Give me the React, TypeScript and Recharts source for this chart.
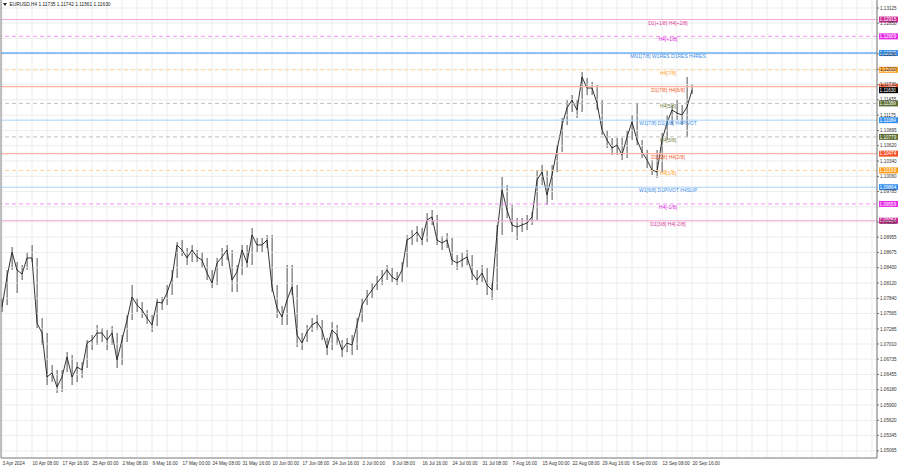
import React from 'react';
import { ComposedChart, Line, Bar, XAxis, YAxis, CartesianGrid, ReferenceLine } from 'recharts';

// H4 EURUSD, sampled about every 7 bars (closes, highs, lows)
const closes = [
  1.07684, 1.08230, 1.08685, 1.08357, 1.08284, 1.08575, 1.08575, 1.07392, 1.07210, 1.06410,
  1.06482, 1.06228, 1.06410, 1.06774, 1.06410, 1.06592, 1.06537, 1.07028, 1.07083, 1.07210,
  1.07210, 1.07083, 1.07210, 1.06719, 1.07083, 1.07447, 1.07866, 1.07720, 1.07629, 1.07483,
  1.07356, 1.07775, 1.07756, 1.07938, 1.08211, 1.08812, 1.08721, 1.08575, 1.08721, 1.08594,
  1.08539, 1.08302, 1.08120, 1.08484, 1.08594, 1.08721, 1.08175, 1.08321, 1.08721, 1.08484,
  1.08994, 1.08812, 1.08812, 1.08903, 1.08048, 1.07665, 1.07502, 1.07811, 1.08048, 1.07174,
  1.07028, 1.07229, 1.07356, 1.07411, 1.07265, 1.06937, 1.07265, 1.07174, 1.06901, 1.07028,
  1.06992, 1.07356, 1.07720, 1.07866, 1.07993, 1.08120, 1.08230, 1.08357, 1.08230, 1.08175,
  1.08357, 1.08903, 1.08958, 1.09049, 1.08903, 1.09267, 1.09322, 1.08903, 1.08848, 1.08903,
  1.08539, 1.08484, 1.08539, 1.08594, 1.08302, 1.08175, 1.08302, 1.08084, 1.07993, 1.09030,
  1.09813, 1.09449, 1.09176, 1.09140, 1.09176, 1.09212, 1.09322, 1.09995, 1.10141, 1.09722,
  1.10086, 1.10541, 1.10996, 1.11305, 1.11451, 1.11269, 1.11870, 1.11669, 1.11669, 1.11396,
  1.10905, 1.10723, 1.10577, 1.10632, 1.10450, 1.10778, 1.11051, 1.10723, 1.10505, 1.10359,
  1.10177, 1.10141, 1.10723, 1.11032, 1.11269, 1.11214, 1.11178, 1.11324, 1.11630,
];
const highs = [
  1.07847, 1.08357, 1.08776, 1.08503, 1.08448, 1.08685, 1.08812, 1.08575, 1.07483, 1.07210,
  1.06628, 1.06537, 1.06537, 1.06865, 1.06810, 1.06683, 1.06683, 1.07083, 1.07174, 1.07356,
  1.07301, 1.07265, 1.07338, 1.07210, 1.07174, 1.07538, 1.08084, 1.07847, 1.07775, 1.07629,
  1.07538, 1.07847, 1.07866, 1.08084, 1.08357, 1.08867, 1.08903, 1.08757, 1.08812, 1.08721,
  1.08685, 1.08575, 1.08357, 1.08575, 1.08757, 1.08812, 1.08721, 1.08448, 1.08812, 1.08812,
  1.09121, 1.08939, 1.08939, 1.08994, 1.08994, 1.08084, 1.07702, 1.08448, 1.08448, 1.08084,
  1.07210, 1.07356, 1.07483, 1.07538, 1.07447, 1.07119, 1.07411, 1.07356, 1.07083, 1.07119,
  1.07174, 1.07483, 1.07847, 1.07993, 1.08120, 1.08248, 1.08357, 1.08448, 1.08393, 1.08321,
  1.08503, 1.08994, 1.09085, 1.09158, 1.09121, 1.09394, 1.09449, 1.09358, 1.08976, 1.09030,
  1.08939, 1.08630, 1.08685, 1.08721, 1.08630, 1.08357, 1.08448, 1.08393, 1.08120, 1.09176,
  1.10050, 1.09904, 1.09540, 1.09303, 1.09303, 1.09358, 1.09413, 1.10177, 1.10268, 1.10177,
  1.10268, 1.10632, 1.11123, 1.11451, 1.11542, 1.11451, 1.11961, 1.11851, 1.11779, 1.11724,
  1.11451, 1.10905, 1.10759, 1.10759, 1.10759, 1.10905, 1.11178, 1.11396, 1.10723, 1.10541,
  1.10359, 1.10541, 1.10850, 1.11178, 1.11360, 1.11451, 1.11360, 1.11870, 1.11742,
];
const lows = [
  1.07593, 1.07720, 1.08357, 1.07938, 1.08175, 1.08357, 1.08503, 1.07301, 1.06992, 1.06264,
  1.06319, 1.06118, 1.06137, 1.06501, 1.06264, 1.06319, 1.06391, 1.06573, 1.06901, 1.06992,
  1.07047, 1.06901, 1.06992, 1.06573, 1.06628, 1.07047, 1.07447, 1.07593, 1.07483, 1.07374,
  1.07229, 1.07338, 1.07629, 1.07720, 1.07902, 1.08211, 1.08612, 1.08448, 1.08503, 1.08503,
  1.08393, 1.08175, 1.08029, 1.08084, 1.08430, 1.08539, 1.07957, 1.07957, 1.08266, 1.08393,
  1.08448, 1.08685, 1.08685, 1.08757, 1.07957, 1.07483, 1.07356, 1.07356, 1.07902, 1.06956,
  1.06901, 1.07047, 1.07229, 1.07265, 1.07083, 1.06810, 1.06901, 1.06992, 1.06774, 1.06865,
  1.06810, 1.06901, 1.07411, 1.07720, 1.07847, 1.07993, 1.08084, 1.08175, 1.08139, 1.08084,
  1.08139, 1.08393, 1.08812, 1.08867, 1.08812, 1.08867, 1.09176, 1.08812, 1.08721, 1.08757,
  1.08448, 1.08357, 1.08393, 1.08448, 1.08175, 1.08084, 1.08139, 1.07902, 1.07811, 1.07993,
  1.08994, 1.09303, 1.09049, 1.08903, 1.09049, 1.09085, 1.09176, 1.09267, 1.09904, 1.09540,
  1.09631, 1.10141, 1.10505, 1.10996, 1.11233, 1.11123, 1.11233, 1.11542, 1.11542, 1.11269,
  1.10814, 1.10577, 1.10450, 1.10450, 1.10359, 1.10395, 1.10723, 1.10632, 1.10395, 1.10213,
  1.10086, 1.10031, 1.10141, 1.10723, 1.10996, 1.11087, 1.10996, 1.10778, 1.11561,
];

const xLabels = [
  '3 Apr 2024', '10 Apr 08:00', '17 Apr 16:00', '25 Apr 00:00', '2 May 08:00', '9 May 16:00',
  '17 May 00:00', '24 May 08:00', '31 May 16:00', '10 Jun 00:00', '17 Jun 08:00', '24 Jun 16:00',
  '2 Jul 00:00', '9 Jul 08:00', '16 Jul 16:00', '24 Jul 00:00', '31 Jul 08:00', '7 Aug 16:00',
  '15 Aug 00:00', '22 Aug 08:00', '29 Aug 16:00', '6 Sep 00:00', '13 Sep 08:00', '20 Sep 16:00',
];

// price-scale labels (those fully hidden behind level boxes in the reference are left out)
const yTicks = [
  1.13125, 1.12850, 1.12290, 1.12010, 1.11730, 1.11455, 1.11175, 1.10895, 1.10620,
  1.10340, 1.10060, 1.09785, 1.09230, 1.08955, 1.08675, 1.08400, 1.08120, 1.07840,
  1.07565, 1.07285, 1.07010, 1.06735, 1.06455, 1.06180, 1.05900, 1.05620, 1.05345, 1.05065,
];
const gridPrices = [
  1.13125, 1.12850, 1.12570, 1.12290, 1.12010, 1.11730, 1.11455, 1.11175, 1.10895, 1.10620,
  1.10340, 1.10060, 1.09785, 1.09505, 1.09230, 1.08955, 1.08675, 1.08400, 1.08120, 1.07840,
  1.07565, 1.07285, 1.07010, 1.06735, 1.06455, 1.06180, 1.05900, 1.05620, 1.05345, 1.05065,
];

const levelPrices = [
  1.12915, 1.12609, 1.12305, 1.12000, 1.11694, 1.11389, 1.11084, 1.10779, 1.10474, 1.10169,
  1.09864, 1.09559, 1.09254,
];
const levelTexts = [
  'D1[+1/8] H4[+2/8]', 'H4[+1/8]', 'MN1[7/8] W1RES D1RES H4RES', 'H4[7/8]', 'D1[7/8] H4[6/8]',
  'H4[5/8]', 'W1[7/8] D1[6/8] H4PIVOT', 'H4[3/8]', 'D1[5/8] H4[2/8]', 'H4[1/8]',
  'W1[6/8] D1PIVOT H4SUP', 'H4[-1/8]', 'D1[3/8] H4[-2/8]',
];
const lastPrice = 1.11630;
const headerText = 'EURUSD,H4  1.11735 1.11742 1.11561 1.11630';

const FONT = '"Liberation Sans", Arial, sans-serif';

const PINK = { stroke: '#f3a6d4', dash: undefined, text: '#d63a9a', box: '#cf2a93', w: 1 };
const MAG = { stroke: '#f692f6', dash: '4 3', text: '#e024e0', box: '#e62ae6', w: 1 };
const BLUE_STRONG = { stroke: '#6aaef2', dash: undefined, text: '#3d8fe8', box: '#3591ef', w: 1.4 };
const BLUE = { stroke: '#acd2f7', dash: undefined, text: '#3d8fe8', box: '#3591ef', w: 1 };
const ORANGE = { stroke: '#ffd39a', dash: '4 3', text: '#ff9d1f', box: '#ff9d1f', w: 1 };
const RED = { stroke: '#ffb3a0', dash: undefined, text: '#f25a2e', box: '#f2522a', w: 1.2 };
const OLIVE = { stroke: '#c2c2b6', dash: '4 3', text: '#6f7f3c', box: '#5c6d33', w: 1 };
const levelStyles = [PINK, MAG, BLUE_STRONG, ORANGE, RED, OLIVE, BLUE, OLIVE, RED, ORANGE, BLUE, MAG, PINK];

const data = closes.map((c, i) => ({ i, c, r: [lows[i], highs[i]] }));
const gridTicks: number[] = [];
for (let k = 0; k <= 174; k += 3) gridTicks.push(k);

const makeLabel = (text: string, st: any, price: number) => (props: any) => {
  const vb = props.viewBox || {};
  const x0 = vb.x ?? 0;
  const w = vb.width ?? 0;
  const y = vb.y ?? 0;
  return (
    <g>
      {text ? (
        <text x={x0 + 667} y={y + 5} textAnchor="middle" fontSize={5} fill={st.text} fontFamily={FONT}>
          {text}
        </text>
      ) : null}
      <rect x={x0 + w + 2} y={y - 3} width={19} height={6} fill={st.box} />
      <text x={x0 + w + 2.6} y={y + 1.7} fontSize={4.6} fill="#ffffff" fontFamily={FONT}>
        {price.toFixed(5)}
      </text>
    </g>
  );
};

const XTick = (props: any) => {
  const { x, y, payload } = props;
  const v = payload.value;
  if (v % 6 !== 0 || v / 6 >= xLabels.length) return <g />;
  return (
    <text x={x + 0.5} y={y + 2.8} fontSize={4.6} fill="#333" fontFamily={FONT} textAnchor="start">
      {xLabels[v / 6]}
    </text>
  );
};

export default function App() {
  return (
    <div style={{ position: 'relative', width: 900, height: 468, background: '#fff' }}>
      <style>{`body{margin:0;background:#fff}`}</style>
      <ComposedChart width={900} height={468} data={data} margin={{ top: 0, right: 0, bottom: 0, left: 0 }}>
        {gridPrices.map((p, k) => (
          <ReferenceLine key={'g' + k} yAxisId="p" y={p} stroke="#e8e8e8" strokeWidth={0.8} />
        ))}
        <CartesianGrid stroke="#e8e8e8" strokeWidth={0.8} yAxisId="p" horizontal={false} />
        <XAxis
          dataKey="i"
          type="number"
          domain={[-0.2, 175]}
          allowDataOverflow
          ticks={gridTicks}
          interval={0}
          height={10}
          tickLine={false}
          tickSize={2}
          tickMargin={2}
          axisLine={{ stroke: '#777' }}
          tick={<XTick />}
        />
        <YAxis yAxisId="l" orientation="left" width={1} domain={[1.04935, 1.13271]} tick={false} tickLine={false} axisLine={{ stroke: '#888' }} />
        <YAxis
          yAxisId="p"
          orientation="right"
          width={23}
          domain={[1.04935, 1.13271]}
          allowDataOverflow
          ticks={yTicks}
          interval={0}
          tickSize={2}
          tickMargin={1}
          axisLine={{ stroke: '#777' }}
          tickLine={{ stroke: '#777' }}
          tick={{ fontSize: 4.6, fill: '#333', fontFamily: FONT }}
          tickFormatter={(v: number) => v.toFixed(5)}
        />
        <Bar yAxisId="p" dataKey="r" barSize={1.3} fill="#7a7a7a" isAnimationActive={false} />
        <Line
          yAxisId="p"
          dataKey="c"
          type="linear"
          stroke="#1e1e1e"
          strokeWidth={0.9}
          dot={false}
          activeDot={false}
          isAnimationActive={false}
        />
        {levelPrices.map((p, k) => {
          const st = levelStyles[k];
          return (
            <ReferenceLine
              key={k}
              yAxisId="p"
              y={p}
              stroke={st.stroke}
              strokeWidth={st.w}
              strokeDasharray={st.dash}
              label={makeLabel(levelTexts[k], st, p)}
            />
          );
        })}
        <ReferenceLine
          yAxisId="p"
          y={lastPrice}
          stroke="#000"
          strokeOpacity={0}
          label={makeLabel('', { box: '#000', text: '#000' }, lastPrice)}
        />
      </ComposedChart>
      <svg width={120} height={10} style={{ position: 'absolute', left: 0, top: 0 }}>
        <polygon points="3,3 7,3 5,6" fill="#222" />
        <text x={9.5} y={6.4} fontSize={4.8} fill="#222" fontFamily={FONT}>
          {headerText}
        </text>
      </svg>
    </div>
  );
}
